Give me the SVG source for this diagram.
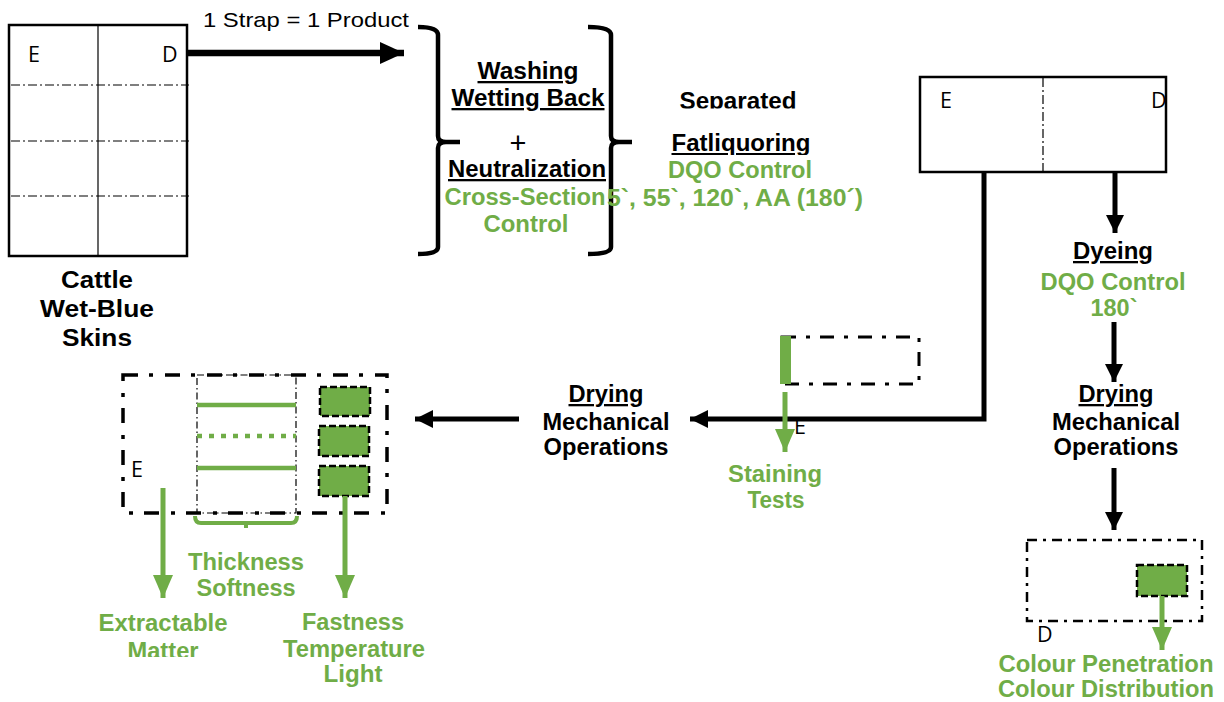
<svg xmlns="http://www.w3.org/2000/svg" width="1224" height="702" viewBox="0 0 1224 702">
<style>
.b{font-family:"Liberation Sans",Arial,sans-serif;font-weight:bold;font-size:23px;fill:#000;text-anchor:middle}
.g{font-family:"Liberation Sans",Arial,sans-serif;font-weight:bold;font-size:23px;fill:#70AD47;text-anchor:middle}
.u{text-decoration:underline}
.l{font-family:"Open Sans","Liberation Sans",sans-serif;font-size:21.5px;fill:#000}
.thin{fill:none;stroke:#000;stroke-width:1.2;stroke-dasharray:9 3 2 3}
.gbox{fill:#70AD47;stroke:#000;stroke-width:2.5;stroke-dasharray:7 3}
.conn{fill:none;stroke:#000;stroke-width:5}
.gconn{fill:none;stroke:#70AD47;stroke-width:5}
</style>
<defs>
<marker id="ahb" markerUnits="userSpaceOnUse" markerWidth="24" markerHeight="22" refX="24" refY="11" orient="auto"><path d="M0,0 L24,11 L0,22 z" fill="#000"/></marker>
<marker id="ah" markerUnits="userSpaceOnUse" markerWidth="18" markerHeight="18" refX="18" refY="9" orient="auto"><path d="M0,0 L18,9 L0,18 z" fill="#000"/></marker>
<marker id="ahg" markerUnits="userSpaceOnUse" markerWidth="23" markerHeight="20" refX="23" refY="10" orient="auto"><path d="M0,0 L23,10 L0,20 z" fill="#70AD47"/></marker>
<clipPath id="clipSep"><rect x="600" y="60" width="300" height="48.5"/></clipPath>
<clipPath id="clipFat"><rect x="600" y="120" width="300" height="35"/></clipPath>
<clipPath id="clipMat"><rect x="80" y="630" width="200" height="27"/></clipPath>
</defs>

<g id="wet-blue-skins">
<rect x="9" y="25" width="178" height="231" fill="#fff" stroke="#000" stroke-width="2.5"/>
<line x1="98" y1="25" x2="98" y2="256" stroke="#000" stroke-width="1.2"/>
<line class="thin" x1="11" y1="85" x2="189" y2="85"/>
<line class="thin" x1="11" y1="141" x2="189" y2="141"/>
<line class="thin" x1="11" y1="196" x2="189" y2="196"/>
<text class="l" x="28" y="62">E</text>
<text class="l" x="162" y="62">D</text>
<text class="b" x="97" y="288" font-size="25" textLength="72" lengthAdjust="spacingAndGlyphs">Cattle</text>
<text class="b" x="97" y="317" font-size="25" textLength="114" lengthAdjust="spacingAndGlyphs">Wet-Blue</text>
<text class="b" x="97" y="346" font-size="25" textLength="70" lengthAdjust="spacingAndGlyphs">Skins</text>
</g>

<g id="strap-label">
<text x="203" y="27" font-family="Liberation Sans, Arial, sans-serif" font-size="21" fill="#000" textLength="206" lengthAdjust="spacingAndGlyphs">1 Strap = 1 Product</text>
</g>

<g id="washing-group">
<path d="M418,27 Q438,27 438,35 V136 Q438,142 446,142 H460 M446,142 Q438,142 438,148 V247 Q438,254 418,254" fill="none" stroke="#000" stroke-width="4.5"/>
<path d="M588,27 Q611,27 611,35 V136 Q611,142 619,142 H632 M619,142 Q611,142 611,148 V247 Q611,254 588,254" fill="none" stroke="#000" stroke-width="4.5"/>
<text class="b u" x="528" y="79" textLength="101" lengthAdjust="spacingAndGlyphs">Washing</text>
<text class="b u" x="528" y="106" textLength="153" lengthAdjust="spacingAndGlyphs">Wetting Back</text>
<text x="518" y="153" font-family="Liberation Sans, Arial, sans-serif" font-size="29" fill="#000" text-anchor="middle">+</text>
<text class="b u" x="527" y="177" textLength="158" lengthAdjust="spacingAndGlyphs">Neutralization</text>
<text class="g" x="525" y="205" textLength="161" lengthAdjust="spacingAndGlyphs">Cross-Section</text>
<text class="g" x="526" y="232" textLength="85" lengthAdjust="spacingAndGlyphs">Control</text>
</g>

<g id="fatliquoring">
<text class="b" x="738" y="109" clip-path="url(#clipSep)" textLength="117" lengthAdjust="spacingAndGlyphs">Separated</text>
<text class="b u" x="741" y="151" clip-path="url(#clipFat)" textLength="139" lengthAdjust="spacingAndGlyphs">Fatliquoring</text>
<text class="g" x="740" y="178" textLength="144" lengthAdjust="spacingAndGlyphs">DQO Control</text>
<text class="g" x="735" y="206" textLength="256" lengthAdjust="spacingAndGlyphs">5`, 55`, 120`, AA (180´)</text>
</g>

<g id="separated-skin">
<text class="l" x="940" y="108">E</text>
<text class="l" x="1151" y="108">D</text>
<rect x="920" y="77" width="246" height="95" fill="none" stroke="#000" stroke-width="2.5"/>
<line class="thin" x1="1043" y1="78" x2="1043" y2="171"/>
</g>

<g id="dyeing">
<text class="b u" x="1113" y="259" textLength="80" lengthAdjust="spacingAndGlyphs">Dyeing</text>
<text class="g" x="1113" y="290" textLength="145" lengthAdjust="spacingAndGlyphs">DQO Control</text>
<text class="g" x="1114" y="316" textLength="47" lengthAdjust="spacingAndGlyphs">180`</text>
</g>

<g id="drying-right">
<text class="b u" x="1116" y="402" textLength="75" lengthAdjust="spacingAndGlyphs">Drying</text>
<text class="b" x="1116" y="430" textLength="128" lengthAdjust="spacingAndGlyphs">Mechanical</text>
<text class="b" x="1116" y="455" textLength="125" lengthAdjust="spacingAndGlyphs">Operations</text>
</g>

<g id="dyed-skin">
<rect x="1027" y="540" width="175" height="81" fill="none" stroke="#000" stroke-width="2.5" stroke-dasharray="10 6 3 6"/>
<rect class="gbox" x="1137" y="565" width="50" height="31"/>
<text class="l" x="1037" y="642">D</text>
<text class="g" x="1106" y="672" textLength="215" lengthAdjust="spacingAndGlyphs">Colour Penetration</text>
<text class="g" x="1106" y="697" textLength="216" lengthAdjust="spacingAndGlyphs">Colour Distribution</text>
</g>

<g id="staining">
<text class="l" x="794" y="434">E</text>
<rect x="782" y="337" width="137" height="47" fill="none" stroke="#000" stroke-width="3" stroke-dasharray="14 10 4 10"/>
<rect x="780" y="336" width="11" height="48" fill="#70AD47"/>
<text class="g" x="775" y="482" textLength="94" lengthAdjust="spacingAndGlyphs">Staining</text>
<text class="g" x="776" y="508" textLength="57" lengthAdjust="spacingAndGlyphs">Tests</text>
</g>

<g id="drying-middle">
<text class="b u" x="606" y="402" textLength="75" lengthAdjust="spacingAndGlyphs">Drying</text>
<text class="b" x="606" y="430" textLength="127" lengthAdjust="spacingAndGlyphs">Mechanical</text>
<text class="b" x="606" y="455" textLength="125" lengthAdjust="spacingAndGlyphs">Operations</text>
</g>

<g id="final-skin">
<rect x="123" y="375" width="264" height="138" fill="none" stroke="#000" stroke-width="3.5" stroke-dasharray="15 11 4 12"/>
<rect x="197" y="375" width="99" height="138" fill="none" stroke="#000" stroke-width="1.2" stroke-dasharray="7 3 1.5 3"/>
<line x1="197" y1="405" x2="296" y2="405" stroke="#70AD47" stroke-width="4.5"/>
<line x1="197" y1="436" x2="296" y2="436" stroke="#70AD47" stroke-width="4.5" stroke-dasharray="5 7"/>
<line x1="197" y1="468" x2="296" y2="468" stroke="#70AD47" stroke-width="4.5"/>
<path d="M195,516 Q195,523 201,523 H291 Q297,523 297,516 M246,523 V528" fill="none" stroke="#70AD47" stroke-width="4"/>
<rect class="gbox" x="320" y="387" width="50" height="29"/>
<rect class="gbox" x="319" y="426" width="50" height="30"/>
<rect class="gbox" x="319" y="466" width="50" height="30"/>
<text class="l" x="131" y="477">E</text>
<text class="g" x="246" y="570" textLength="116" lengthAdjust="spacingAndGlyphs">Thickness</text>
<text class="g" x="246" y="596" textLength="99" lengthAdjust="spacingAndGlyphs">Softness</text>
<text class="g" x="163" y="631" textLength="129" lengthAdjust="spacingAndGlyphs">Extractable</text>
<text class="g" x="163" y="659" clip-path="url(#clipMat)" textLength="71" lengthAdjust="spacingAndGlyphs">Matter</text>
<text class="g" x="353" y="630" textLength="102" lengthAdjust="spacingAndGlyphs">Fastness</text>
<text class="g" x="354" y="657" textLength="142" lengthAdjust="spacingAndGlyphs">Temperature</text>
<text class="g" x="353" y="682" textLength="59" lengthAdjust="spacingAndGlyphs">Light</text>
</g>

<g id="connectors">
<path d="M187,53 H404" fill="none" stroke="#000" stroke-width="6.5" marker-end="url(#ahb)"/>
<path class="conn" d="M984,172 V419 H690" marker-end="url(#ah)"/>
<path class="conn" d="M519,419 H415" marker-end="url(#ah)"/>
<path class="conn" d="M1115,172 V233" marker-end="url(#ah)"/>
<path class="conn" d="M1114,322 V382" marker-end="url(#ah)"/>
<path class="conn" d="M1114,468 V530" marker-end="url(#ah)"/>
<path class="gconn" d="M785,392 V452" marker-end="url(#ahg)"/>
<path class="gconn" d="M163,488 V598" marker-end="url(#ahg)"/>
<path class="gconn" d="M345,496 V598" marker-end="url(#ahg)"/>
<path class="gconn" d="M1162,596 V650" marker-end="url(#ahg)"/>
</g>
</svg>
